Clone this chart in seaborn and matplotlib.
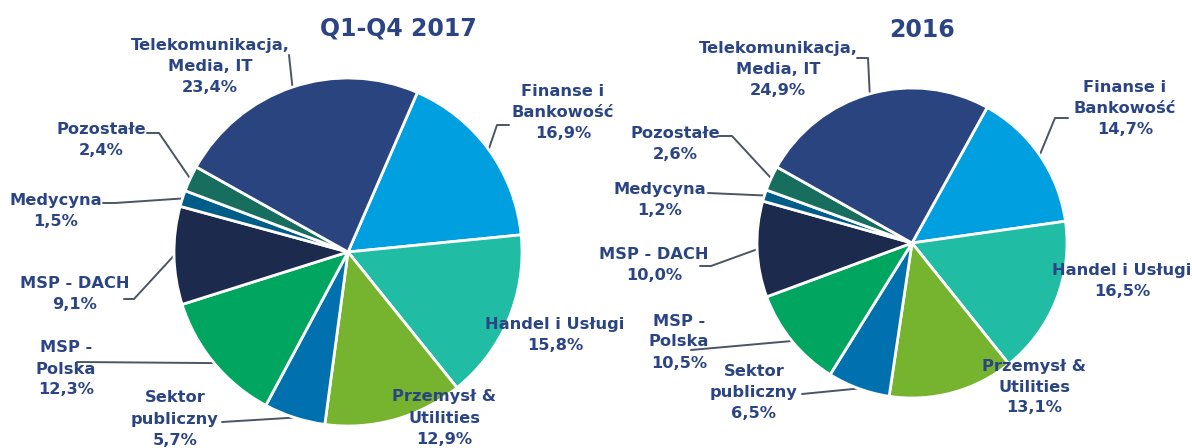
import numpy as np
import matplotlib
matplotlib.use("Agg")
import matplotlib.pyplot as plt
import seaborn as sns

# data
categories = ["Finanse i\nBankowość", "Handel i Usługi", "Przemysł &\nUtilities",
              "Sektor\npubliczny", "MSP -\nPolska", "MSP - DACH", "Medycyna",
              "Pozostałe", "Telekomunikacja,\nMedia, IT"]
values_2017 = [16.9, 15.8, 12.9, 5.7, 12.3, 9.1, 1.5, 2.4, 23.4]
values_2016 = [14.7, 16.5, 13.1, 6.5, 10.5, 10.0, 1.2, 2.6, 24.9]
titles = ["Q1-Q4 2017", "2016"]

slice_colors = ["#009FE0", "#20BCA4", "#76B32E", "#0071AE", "#00A660",
                "#1B2A4D", "#005D87", "#176E5E", "#29447F"]

W, H = 1192, 448
navy = "#2B4584"
line_col = "#4A5565"

# layout in image pixels (y from top): pie center, radius, start angle,
# title position, label centers and leader-line elbows
layouts = [
    dict(center=(348, 252), radius=174, start=66.5, title=(398, 28),
         labels=[(563, 112), (555, 335), (444, 418), (175, 419), (66, 369),
                 (75, 294), (56, 211), (101, 140), (210, 66)],
         leaders=[[(509, 125), (497, 125)], None, None, [(222, 422)], [(77, 362)],
                  [(124, 299), (134, 299)], [(103, 203), (115, 203)],
                  [(147, 133), (159, 133)], [(289, 55)]]),
    dict(center=(912, 243), radius=155, start=61, title=(922, 30),
         labels=[(1125, 108), (1122, 281), (1034, 387), (754, 392), (679, 342),
                 (654, 265), (660, 200), (675, 144), (778, 69)],
         leaders=[[(1068, 118), (1055, 118)], None, None, [(802, 394)], [(691, 350)],
                  [(700, 266), (711, 266)], [(708, 193)],
                  [(719, 136), (732, 136)], [(857, 58), (868, 58)]]),
]


def fmt(v):
    return f"{v:.1f}".replace(".", ",") + "%"


sns.set_theme(style="white")
plt.rcParams["font.family"] = ["DejaVu Sans"]
palette = sns.color_palette(slice_colors)

fig = plt.figure(figsize=(W / 100, H / 100), dpi=100)
ax = fig.add_axes([0, 0, 1, 1])

for vals, title, lay in zip([values_2017, values_2016], titles, layouts):
    cx, cy = lay["center"]
    cy = H - cy
    r = lay["radius"]
    wedges, _ = ax.pie(vals, colors=palette, startangle=lay["start"], counterclock=False,
                       center=(cx, cy), radius=r,
                       wedgeprops=dict(edgecolor="white", linewidth=2))
    tx, ty = lay["title"]
    ax.text(tx, H - ty, title, ha="center", va="center", fontsize=17,
            fontweight="bold", color=navy)
    for w, cat, v, (lx, ly), lead in zip(wedges, categories, vals,
                                         lay["labels"], lay["leaders"]):
        ax.text(lx, H - ly, cat + "\n" + fmt(v), ha="center", va="center",
                fontsize=11.7, fontweight="bold", color=navy, linespacing=1.5)
        if lead:
            mid = np.deg2rad((w.theta1 + w.theta2) / 2)
            pts = [(x, H - y) for x, y in lead]
            pts.append((cx + r * np.cos(mid), cy + r * np.sin(mid)))
            xs, ys = zip(*pts)
            ax.plot(xs, ys, color=line_col, linewidth=1.4, zorder=0.5)

ax.set_xlim(0, W)
ax.set_ylim(0, H)
ax.set_aspect("equal")
ax.axis("off")

plt.savefig("out.png", dpi=100)
